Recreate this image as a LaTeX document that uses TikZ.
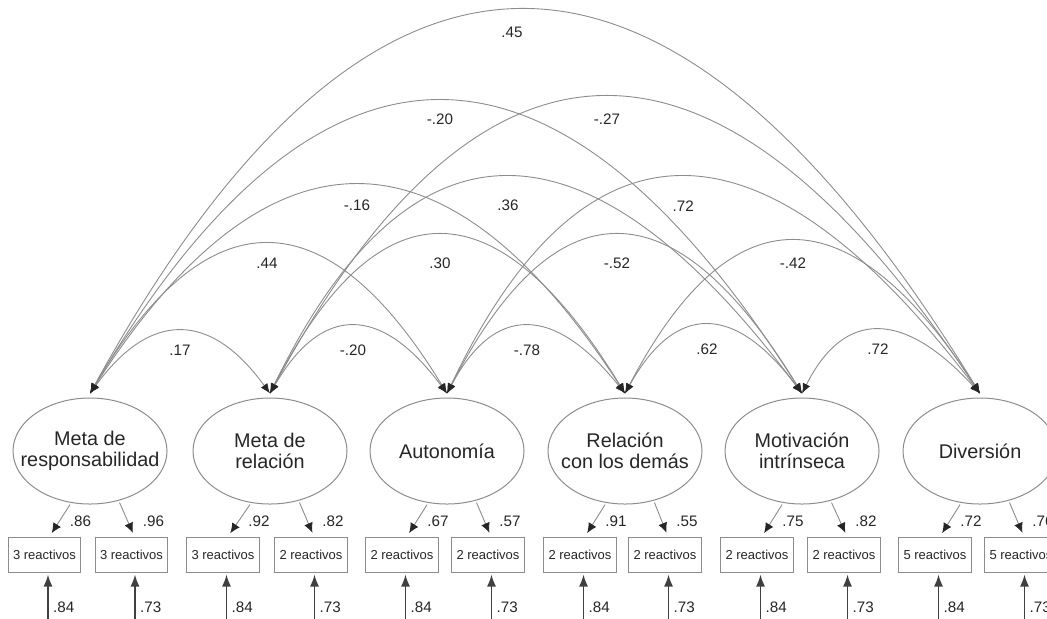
\documentclass[tikz,border=0pt]{standalone}
\usepackage{fontspec}
\setmainfont{Liberation Sans}
\usetikzlibrary{shapes.geometric, arrows.meta, positioning}

\begin{document}
\begin{tikzpicture}[
    x=0.5pt, y=-0.5pt,
    factor/.style={ellipse, draw=black!45, line width=0.5pt, minimum width=77pt, minimum height=53pt, inner xsep=-8pt, inner ysep=0pt, align=center, text=black!85, font=\fontsize{9.9}{10.5}\selectfont},
    item/.style={rectangle, draw=black!45, line width=0.5pt, minimum height=17.5pt, inner xsep=2.5pt, text=black!85, font=\fontsize{6.5}{7}\selectfont},
    num/.style={inner sep=0pt, text=black!85, font=\fontsize{7.6}{8}\selectfont},
    cov/.style={draw=black!45, line width=0.45pt, {Latex[length=5pt,width=4pt,color=black!85]}-{Latex[length=5pt,width=4pt,color=black!85]}},
    load/.style={draw=black!45, line width=0.45pt, -{Latex[length=5pt,width=4.5pt,color=black!85]}, shorten >=2pt, shorten <=1pt},
    err/.style={draw=black!75, line width=0.8pt, -{Latex[length=6pt,width=4.5pt]}, shorten >=1pt}
]
    \useasboundingbox (0,0) rectangle (1047,618);
    \clip (0,0) rectangle (1047,618);

    % Factors
    \node[factor] (resp) at (90,451) {Meta de\\responsabilidad};
    \node[factor] (rel) at (270,451) {Meta de\\relación};
    \node[factor] (auton) at (447,451) {Autonomía};
    \node[factor] (dem) at (625,451) {Relación\\con los demás};
    \node[factor] (mot) at (802,451) {Motivación\\intrínseca};
    \node[factor] (div) at (980,451) {Diversión};

    \coordinate (respT) at ([yshift=2pt]resp.north);
    \coordinate (relT) at ([yshift=2pt]rel.north);
    \coordinate (autonT) at ([yshift=2pt]auton.north);
    \coordinate (demT) at ([yshift=2pt]dem.north);
    \coordinate (motT) at ([yshift=2pt]mot.north);
    \coordinate (divT) at ([yshift=2pt]div.north);

    % Items
    \node[item] (resp1) at (44.5,554.5) {3 reactivos};
    \node[item] (resp2) at (131.5,554.5) {3 reactivos};
    \node[item] (rel1) at (223,554.5) {3 reactivos};
    \node[item] (rel2) at (311,554.5) {2 reactivos};
    \node[item] (auton1) at (402,554.5) {2 reactivos};
    \node[item] (auton2) at (488,554.5) {2 reactivos};
    \node[item] (dem1) at (580,554.5) {2 reactivos};
    \node[item] (dem2) at (665,554.5) {2 reactivos};
    \node[item] (mot1) at (757,554.5) {2 reactivos};
    \node[item] (mot2) at (844,554.5) {2 reactivos};
    \node[item] (div1) at (935,554.5) {5 reactivos};
    \node[item] (div2) at (1021,554.5) {5 reactivos};

    % Covariances: neighbours
    \draw[cov] (respT) .. controls +(60,-82.7) and +(-60,-82.7) .. (relT) node[num, midway, yshift=-9.5pt] {.17};
    \draw[cov] (relT) .. controls +(51.7,-89.3) and +(-66.3,-89.3) .. (autonT) node[num, midway, yshift=-12pt] {-.20};
    \draw[cov] (autonT) .. controls +(47.3,-89.3) and +(-71.3,-89.3) .. (demT) node[num, midway, yshift=-12pt] {-.78};
    \draw[cov] (demT) .. controls +(50.3,-90.7) and +(-67.7,-90.7) .. (motT) node[num, midway, yshift=-12pt] {.62};
    \draw[cov] (motT) .. controls +(42,-84) and +(-76.7,-84) .. (divT) node[num, midway, yshift=-9.5pt] {.72};

    % Covariances: one apart
    \draw[cov] (respT) .. controls +(117,-198.7) and +(-121,-198.7) .. (autonT) node[num, midway, yshift=-9.5pt] {.44};
    \draw[cov] (relT) .. controls +(108.3,-210.7) and +(-128.3,-210.7) .. (demT) node[num, midway, yshift=-14pt] {.30};
    \draw[cov] (autonT) .. controls +(108.3,-210.7) and +(-128.3,-210.7) .. (motT) node[num, midway, yshift=-14pt] {-.52};
    \draw[cov] (demT) .. controls +(105.7,-202.7) and +(-131,-202.7) .. (divT) node[num, midway, yshift=-11pt] {-.42};

    % Covariances: two apart
    \draw[cov] (respT) .. controls +(177.7,-277.3) and +(-179,-277.3) .. (demT) node[num, midway, yshift=-10pt] {-.16};
    \draw[cov] (relT) .. controls +(140,-288) and +(-214.7,-288) .. (motT) node[num, midway, yshift=-14pt] {.36};
    \draw[cov] (autonT) .. controls +(137,-288) and +(-218,-288) .. (divT) node[num, midway, yshift=-14.5pt] {.72};

    % Covariances: long ones
    \draw[cov] (respT) .. controls +(229.3,-389.3) and +(-245.3,-389.3) .. (motT) node[num, midway, yshift=-9pt] {-.20};
    \draw[cov] (relT) .. controls +(212.7,-394.7) and +(-260.7,-394.7) .. (divT) node[num, midway, yshift=-11pt] {-.27};
    \draw[cov] (respT) .. controls +(280.7,-510.7) and +(-312.7,-510.7) .. (divT) node[num, midway, yshift=-11pt, xshift=-5.5pt] {.45};

    % Loadings
    \draw[load] (resp.250) -- ([xshift=2.5pt]resp1.north);
    \draw[load] (resp.300) -- ([xshift=1.5pt]resp2.north);
    \draw[load] (rel.250) -- ([xshift=2.5pt]rel1.north);
    \draw[load] (rel.300) -- ([xshift=1.5pt]rel2.north);
    \draw[load] (auton.250) -- ([xshift=2.5pt]auton1.north);
    \draw[load] (auton.300) -- ([xshift=1.5pt]auton2.north);
    \draw[load] (dem.250) -- ([xshift=2.5pt]dem1.north);
    \draw[load] (dem.300) -- ([xshift=1.5pt]dem2.north);
    \draw[load] (mot.250) -- ([xshift=2.5pt]mot1.north);
    \draw[load] (mot.300) -- ([xshift=1.5pt]mot2.north);
    \draw[load] (div.250) -- ([xshift=2.5pt]div1.north);
    \draw[load] (div.300) -- ([xshift=1.5pt]div2.north);

    \node[num] (lresp1) at ([xshift=18pt, yshift=7.5pt]resp1.north) {.86};
    \node[num] (lresp2) at ([xshift=11pt, yshift=7.5pt]resp2.north) {.96};
    \node[num] (lrel1) at ([xshift=18pt, yshift=7.5pt]rel1.north) {.92};
    \node[num] (lrel2) at ([xshift=11pt, yshift=7.5pt]rel2.north) {.82};
    \node[num] (lauton1) at ([xshift=18pt, yshift=7.5pt]auton1.north) {.67};
    \node[num] (lauton2) at ([xshift=11pt, yshift=7.5pt]auton2.north) {.57};
    \node[num] (ldem1) at ([xshift=18pt, yshift=7.5pt]dem1.north) {.91};
    \node[num] (ldem2) at ([xshift=11pt, yshift=7.5pt]dem2.north) {.55};
    \node[num] (lmot1) at ([xshift=18pt, yshift=7.5pt]mot1.north) {.75};
    \node[num] (lmot2) at ([xshift=11pt, yshift=7.5pt]mot2.north) {.82};
    \node[num] (ldiv1) at ([xshift=18pt, yshift=7.5pt]div1.north) {.72};
    \node[num] (ldiv2) at ([xshift=11pt, yshift=7.5pt]div2.north) {.76};

    % Errors
    \coordinate (eresp1) at ([xshift=1.75pt, yshift=-24pt]resp1.south);
    \coordinate (eresp2) at ([xshift=1.75pt, yshift=-24pt]resp2.south);
    \coordinate (erel1) at ([xshift=1.75pt, yshift=-24pt]rel1.south);
    \coordinate (erel2) at ([xshift=1.75pt, yshift=-24pt]rel2.south);
    \coordinate (eauton1) at ([xshift=1.75pt, yshift=-24pt]auton1.south);
    \coordinate (eauton2) at ([xshift=1.75pt, yshift=-24pt]auton2.south);
    \coordinate (edem1) at ([xshift=1.75pt, yshift=-24pt]dem1.south);
    \coordinate (edem2) at ([xshift=1.75pt, yshift=-24pt]dem2.south);
    \coordinate (emot1) at ([xshift=1.75pt, yshift=-24pt]mot1.south);
    \coordinate (emot2) at ([xshift=1.75pt, yshift=-24pt]mot2.south);
    \coordinate (ediv1) at ([xshift=1.75pt, yshift=-24pt]div1.south);
    \coordinate (ediv2) at ([xshift=1.75pt, yshift=-24pt]div2.south);

    \draw[err] (eresp1) -- ([xshift=1.75pt]resp1.south) node[num, pos=0.27, right=2.2pt] {.84};
    \draw[err] (eresp2) -- ([xshift=1.75pt]resp2.south) node[num, pos=0.27, right=2.2pt] {.73};
    \draw[err] (erel1) -- ([xshift=1.75pt]rel1.south) node[num, pos=0.27, right=2.2pt] {.84};
    \draw[err] (erel2) -- ([xshift=1.75pt]rel2.south) node[num, pos=0.27, right=2.2pt] {.73};
    \draw[err] (eauton1) -- ([xshift=1.75pt]auton1.south) node[num, pos=0.27, right=2.2pt] {.84};
    \draw[err] (eauton2) -- ([xshift=1.75pt]auton2.south) node[num, pos=0.27, right=2.2pt] {.73};
    \draw[err] (edem1) -- ([xshift=1.75pt]dem1.south) node[num, pos=0.27, right=2.2pt] {.84};
    \draw[err] (edem2) -- ([xshift=1.75pt]dem2.south) node[num, pos=0.27, right=2.2pt] {.73};
    \draw[err] (emot1) -- ([xshift=1.75pt]mot1.south) node[num, pos=0.27, right=2.2pt] {.84};
    \draw[err] (emot2) -- ([xshift=1.75pt]mot2.south) node[num, pos=0.27, right=2.2pt] {.73};
    \draw[err] (ediv1) -- ([xshift=1.75pt]div1.south) node[num, pos=0.27, right=2.2pt] {.84};
    \draw[err] (ediv2) -- ([xshift=1.75pt]div2.south) node[num, pos=0.27, right=2.2pt] {.73};

\end{tikzpicture}
\end{document}
